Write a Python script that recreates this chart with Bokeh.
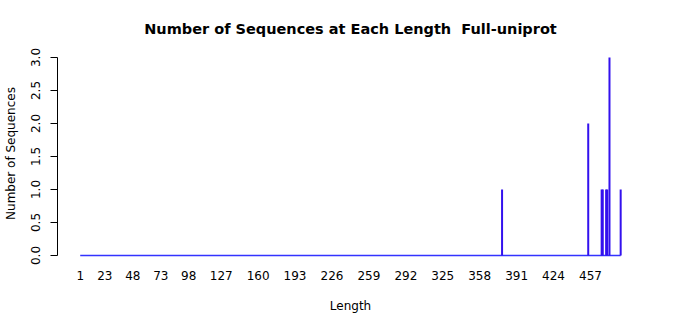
from bokeh.plotting import figure
from bokeh.models import FixedTicker, Range1d, NumeralTickFormatter
from bokeh.embed import file_html
from bokeh.resources import INLINE

# Data: sequence lengths with non-zero counts
lengths = [378, 455, 467, 468, 471, 472, 474, 484]
counts = [1, 2, 1, 1, 1, 1, 3, 1]
min_length = 1
max_length = 484
x_tick_labels = [1, 23, 48, 73, 98, 127, 160, 193, 226, 259, 292, 325, 358, 391, 424, 457]
y_ticks = [0, 0.5, 1, 1.5, 2, 2.5, 3]

FONT = "DejaVu Sans"
BLUE = "#3311ee"

p = figure(width=700, height=315, output_backend="svg", toolbar_location=None,
           x_range=Range1d(-19.3, 504.4), y_range=Range1d(-0.0303, 3.1212),
           min_border_left=57, min_border_right=57, min_border_top=49, min_border_bottom=58)

p.title.text = "Number of Sequences at Each Length\u00a0 Full-uniprot"
p.title.text_font = FONT
p.title.text_font_size = "14.5px"
p.title.text_font_style = "bold"
p.title.text_color = "black"
p.title.align = "center"
p.title.standoff = 25
p.title.offset = 4

p.outline_line_color = None
p.grid.visible = False
p.background_fill_color = "white"
p.border_fill_color = "white"

# baseline of zero counts
p.segment(x0=[min_length], y0=[0], x1=[max_length], y1=[0], line_color="#3333ff", line_width=1.5)
# spikes
p.segment(x0=lengths, y0=[0] * len(lengths), x1=lengths, y1=counts, line_color=BLUE, line_width=2)

xa = p.xaxis[0]
xa.ticker = FixedTicker(ticks=x_tick_labels)
xa.axis_line_color = None
xa.major_tick_line_color = None
xa.minor_tick_line_color = None
xa.major_tick_out = 0
xa.major_tick_in = 0
xa.major_label_standoff = 13
xa.major_label_text_font = FONT
xa.major_label_text_font_size = "12px"
xa.major_label_text_color = "black"
xa.axis_label = "Length"
xa.axis_label_text_font = FONT
xa.axis_label_text_font_size = "12px"
xa.axis_label_text_font_style = "normal"
xa.axis_label_text_color = "black"
xa.axis_label_standoff = 16

ya = p.yaxis[0]
ya.ticker = FixedTicker(ticks=y_ticks)
ya.formatter = NumeralTickFormatter(format="0.0")
ya.bounds = (0, 3)
ya.axis_line_color = "black"
ya.major_tick_line_color = "black"
ya.minor_tick_line_color = None
ya.major_tick_out = 7
ya.major_tick_in = 0
ya.major_label_orientation = "vertical"
ya.major_label_standoff = 10
ya.major_label_text_font = FONT
ya.major_label_text_font_size = "12px"
ya.major_label_text_color = "black"
ya.axis_label = "Number of Sequences"
ya.axis_label_text_font = FONT
ya.axis_label_text_font_size = "12px"
ya.axis_label_text_font_style = "normal"
ya.axis_label_text_color = "black"
ya.axis_label_standoff = 11

open("out.html", "w").write(file_html(p, INLINE))
